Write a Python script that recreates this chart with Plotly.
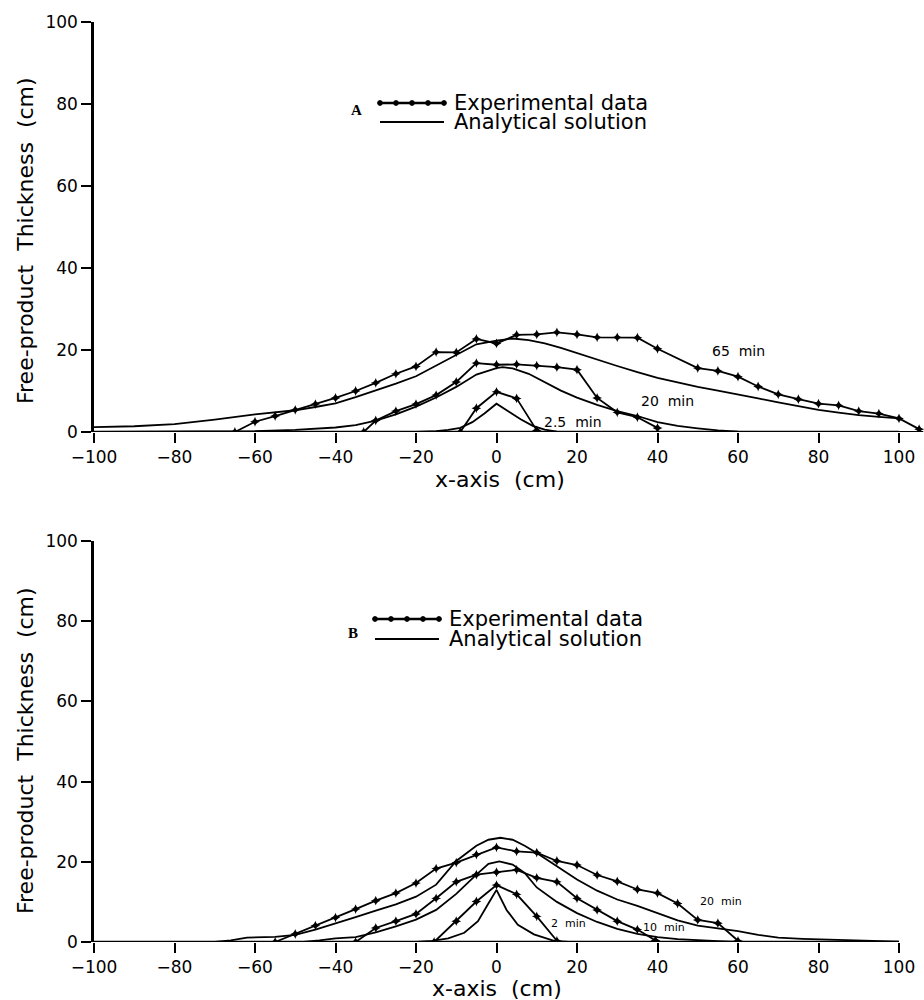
import plotly.graph_objects as go

# ---------------- Panel A data ----------------
a65_exp_x = [-65, -60, -55, -50, -45, -40, -35, -30, -25, -20, -15, -10, -5, 0, 5, 10, 15, 20, 25, 30, 35, 40,
             50, 55, 60, 65, 70, 75, 80, 85, 90, 95, 100, 105]
a65_exp_y = [0, 2.5, 3.9, 5.4, 6.8, 8.3, 10.0, 12.0, 14.2, 16.0, 19.5, 19.4, 22.7, 21.6, 23.7, 23.8, 24.3, 23.8,
             23.1, 23.1, 23.0, 20.3, 15.6, 14.9, 13.5, 11.1, 9.2, 8.0, 6.9, 6.5, 5.1, 4.5, 3.3, 0.7]
a65_ana_x = [-100, -90, -80, -70, -60, -50, -45, -40, -35, -30, -25, -20, -15, -10, -5, 0, 4, 8, 12, 16, 20, 25,
             30, 35, 40, 45, 50, 55, 60, 65, 70, 75, 80, 85, 90, 95, 100]
a65_ana_y = [1.2, 1.4, 1.9, 3.0, 4.3, 5.3, 6.1, 7.0, 8.5, 10.1, 11.8, 13.6, 16.2, 19.0, 21.4, 22.3, 22.8, 22.4,
             21.6, 20.5, 19.2, 17.7, 16.1, 14.6, 13.2, 12.1, 11.0, 10.1, 9.2, 8.2, 7.2, 6.3, 5.4, 4.7, 4.1, 3.7, 3.3]

a20_exp_x = [-33, -30, -25, -20, -15, -10, -5, 0, 5, 10, 15, 20, 25, 30, 35, 40]
a20_exp_y = [0, 2.8, 5.1, 6.8, 9.0, 12.2, 16.8, 16.4, 16.5, 16.2, 15.8, 15.2, 8.3, 4.8, 3.6, 1.0]
a20_ana_x = [-100, -70, -60, -50, -40, -35, -30, -25, -20, -15, -10, -5, 0, 1.5, 4, 8, 12, 16, 20, 25, 30, 35,
             40, 45, 50, 55, 60, 65, 106]
a20_ana_y = [0, 0.1, 0.2, 0.5, 1.1, 1.7, 2.8, 4.3, 6.2, 8.4, 11.0, 14.0, 15.6, 15.8, 15.5, 14.2, 12.1, 10.1, 8.4,
             6.6, 5.1, 3.9, 2.4, 1.5, 0.9, 0.4, 0.1, 0, 0]

a25_exp_x = [-9, -5, 0, 5, 10]
a25_exp_y = [0, 5.8, 9.8, 8.2, 0.4]
a25_ana_x = [-100, -20, -15, -12, -9, -6, -3, 0, 3, 6, 9, 12, 15, 20, 106]
a25_ana_y = [0, 0, 0.2, 0.5, 1.0, 2.4, 4.5, 6.9, 5.0, 3.1, 1.5, 0.6, 0.1, 0, 0]

a_labels = ["65  min", "20  min", "2.5  min"]
a_label_x = [60, 42.5, 19]
a_label_y = [19.8, 7.6, 2.4]

# ---------------- Panel B data ----------------
b20_exp_x = [-55, -50, -45, -40, -35, -30, -25, -20, -15, -10, -5, 0, 5, 10, 15, 20, 25, 30, 35, 40, 45, 50, 55, 60]
b20_exp_y = [0, 2.0, 4.1, 6.1, 8.2, 10.3, 12.2, 14.7, 18.3, 19.8, 21.8, 23.6, 22.6, 22.3, 20.2, 19.2, 16.7, 15.1,
             13.1, 12.2, 9.6, 5.5, 4.7, 0.3]
b20_ana_x = [-100, -70, -66, -62, -55, -50, -45, -40, -35, -30, -25, -20, -15, -10, -5, -2, 1, 4, 7, 10, 15, 20,
             25, 30, 35, 40, 45, 50, 55, 60, 65, 70, 76, 84, 92, 100]
b20_ana_y = [0, 0, 0.4, 1.1, 1.3, 1.8, 3.1, 4.6, 6.2, 7.8, 9.4, 11.3, 14.3, 20.2, 24.0, 25.5, 26.0, 25.5, 24.0,
             22.2, 18.8, 15.6, 12.8, 10.6, 9.0, 7.2, 5.4, 4.1, 3.4, 2.7, 1.8, 1.1, 0.8, 0.6, 0.3, 0.1]

b10_exp_x = [-35, -30, -25, -20, -15, -10, -5, 0, 5, 10, 15, 20, 25, 30, 35, 39.5]
b10_exp_y = [0, 3.5, 5.2, 7.0, 10.9, 15.0, 16.8, 17.4, 18.0, 16.0, 15.0, 10.9, 8.0, 5.2, 3.1, 0.4]
b10_ana_x = [-100, -48, -44, -40, -35, -30, -25, -20, -15, -10, -5, -2, 0.7, 4, 7, 10, 15, 20, 25, 30, 35, 40,
             45, 50, 55, 60, 100]
b10_ana_y = [0, 0, 0.4, 0.9, 1.2, 2.4, 3.9, 5.6, 8.0, 12.0, 16.8, 19.5, 20.1, 19.3, 17.2, 13.6, 10.0, 7.2, 5.0,
             3.3, 2.0, 1.2, 0.7, 0.4, 0.2, 0.05, 0]

b2_exp_x = [-15.5, -10, -5, 0, 5, 10, 15]
b2_exp_y = [0, 5.2, 10.1, 14.2, 11.9, 6.4, 0.3]
b2_ana_x = [-100, -20, -16, -12, -8, -4.6, -2.2, 0, 2.5, 5.3, 9.3, 14.3, 18, 100]
b2_ana_y = [0, 0, 0.3, 0.9, 2.3, 5.2, 9.3, 13.0, 8.0, 4.3, 1.9, 0.3, 0, 0]

b_labels = ["20  min", "2  min", "10  min"]
b_label_x = [55.8, 18, 41.5]
b_label_y = [10.0, 4.6, 3.5]

x_ticks = [-100, -80, -60, -40, -20, 0, 20, 40, 60, 80, 100]
y_ticks = [0, 20, 40, 60, 80, 100]
legend_texts = ["Experimental data", "Analytical solution"]
panel_letters = ["A", "B"]

# ---------------- figure ----------------
W, H = 924, 1000
FONT = "DejaVu Sans"
fig = go.Figure()

exp_style = dict(mode="lines+markers", line=dict(color="black", width=1.8),
                 marker=dict(symbol="star-diamond", size=7, color="black"), showlegend=False,
                 hoverinfo="skip")
ana_style = dict(mode="lines", line=dict(color="black", width=1.8), showlegend=False, hoverinfo="skip")

for xs, ys in [(a65_ana_x, a65_ana_y), (a20_ana_x, a20_ana_y), (a25_ana_x, a25_ana_y)]:
    fig.add_trace(go.Scatter(x=xs, y=ys, xaxis="x", yaxis="y", **ana_style))
for xs, ys in [(a65_exp_x, a65_exp_y), (a20_exp_x, a20_exp_y), (a25_exp_x, a25_exp_y)]:
    fig.add_trace(go.Scatter(x=xs, y=ys, xaxis="x", yaxis="y", **exp_style))
for xs, ys in [(b20_ana_x, b20_ana_y), (b10_ana_x, b10_ana_y), (b2_ana_x, b2_ana_y)]:
    fig.add_trace(go.Scatter(x=xs, y=ys, xaxis="x2", yaxis="y2", **ana_style))
for xs, ys in [(b20_exp_x, b20_exp_y), (b10_exp_x, b10_exp_y), (b2_exp_x, b2_exp_y)]:
    fig.add_trace(go.Scatter(x=xs, y=ys, xaxis="x2", yaxis="y2", **exp_style))

# geometry (pixels)
x_left = 94
x_dom = [x_left / W, 1.0]
px_per_unit = (899 - x_left) / 200.0
x_max = 100 + (W - 899) / px_per_unit
yA_top, yA_bot = 22, 432
yB_top, yB_bot = 541, 942

def ax_common():
    return dict(showgrid=False, zeroline=False, ticks="outside", ticklen=10, tickwidth=2, automargin=False,
                tickcolor="black", tickfont=dict(family=FONT, size=17, color="black"))

fig.update_layout(
    width=W, height=H, margin=dict(l=0, r=0, t=0, b=0, pad=0, autoexpand=False),
    paper_bgcolor="white", plot_bgcolor="white", showlegend=False,
    xaxis=dict(domain=x_dom, range=[-100, x_max], tickvals=x_ticks, anchor="y", showline=False, **ax_common()),
    yaxis=dict(domain=[1 - yA_bot / H, 1 - yA_top / H], range=[0, 100], tickvals=y_ticks, anchor="x",
               showline=True, linewidth=2.5, linecolor="black", **ax_common()),
    xaxis2=dict(domain=x_dom, range=[-100, x_max], tickvals=x_ticks, anchor="y2", showline=False, **ax_common()),
    yaxis2=dict(domain=[1 - yB_bot / H, 1 - yB_top / H], range=[0, 100], tickvals=y_ticks, anchor="x2",
                showline=True, linewidth=2.5, linecolor="black", **ax_common()),
)

shapes = []
annotations = []

def pann(text, xpx, ypx, size, family=FONT, angle=0, xanchor="center"):
    annotations.append(dict(text=text, xref="paper", yref="paper", x=xpx / W, y=1 - ypx / H,
                            xanchor=xanchor, yanchor="middle", textangle=angle, showarrow=False,
                            font=dict(family=family, size=size, color="black")))

# x-axis lines (from -100 to 100 only)
for xr, yr in [("x", "y"), ("x2", "y2")]:
    shapes.append(dict(type="line", xref=xr, yref=yr, x0=x_ticks[0], x1=x_ticks[-1], y0=0, y1=0,
                       line=dict(color="black", width=2.5)))

# axis titles
pann("Free-product  Thickness  (cm)", 25, 241, 22, angle=-90)
pann("Free-product  Thickness  (cm)", 25, 751, 22, angle=-90)
pann("x-axis  (cm)", 500, 479, 22)
pann("x-axis  (cm)", 497, 988, 22)

# curve labels
for t, xx, yy in zip(a_labels, a_label_x, a_label_y):
    annotations.append(dict(text=t, x=xx, y=yy, xref="x", yref="y", showarrow=False,
                            xanchor="center", yanchor="middle",
                            font=dict(family=FONT, size=14, color="black")))
for t, xx, yy in zip(b_labels, b_label_x, b_label_y):
    annotations.append(dict(text=t, x=xx, y=yy, xref="x2", yref="y2", showarrow=False,
                            xanchor="center", yanchor="middle",
                            font=dict(family=FONT, size=11, color="black")))

# custom legends
legend_specs = [
    dict(letter=panel_letters[0], lx=356, ly=110, x0=380, x1=444, y1=103, y2=122, tx=453),
    dict(letter=panel_letters[1], lx=353, ly=633, x0=375, x1=439, y1=619, y2=639, tx=448),
]
for s in legend_specs:
    pann("<b>" + s["letter"] + "</b>", s["lx"], s["ly"], 15, family="Liberation Serif")
    for k, yy in enumerate([s["y1"], s["y2"]]):
        shapes.append(dict(type="line", xref="paper", yref="paper", x0=s["x0"] / W, x1=s["x1"] / W,
                           y0=1 - yy / H, y1=1 - yy / H,
                           line=dict(color="black", width=2.5 if k == 0 else 1.8)))
        annotations.append(dict(text=legend_texts[k], xref="paper", yref="paper", x=s["tx"] / W,
                                y=1 - yy / H, xanchor="left", yanchor="middle", showarrow=False,
                                borderpad=0, font=dict(family=FONT, size=21, color="black")))
    for i in range(5):
        cx = s["x0"] + i * (s["x1"] - s["x0"]) / 4
        r = 2.4
        shapes.append(dict(type="circle", xref="paper", yref="paper",
                           x0=(cx - r) / W, x1=(cx + r) / W,
                           y0=1 - (s["y1"] + r) / H, y1=1 - (s["y1"] - r) / H,
                           fillcolor="black", line=dict(color="black", width=1)))

fig.update_layout(shapes=shapes, annotations=annotations)
fig.write_html("out.html")
